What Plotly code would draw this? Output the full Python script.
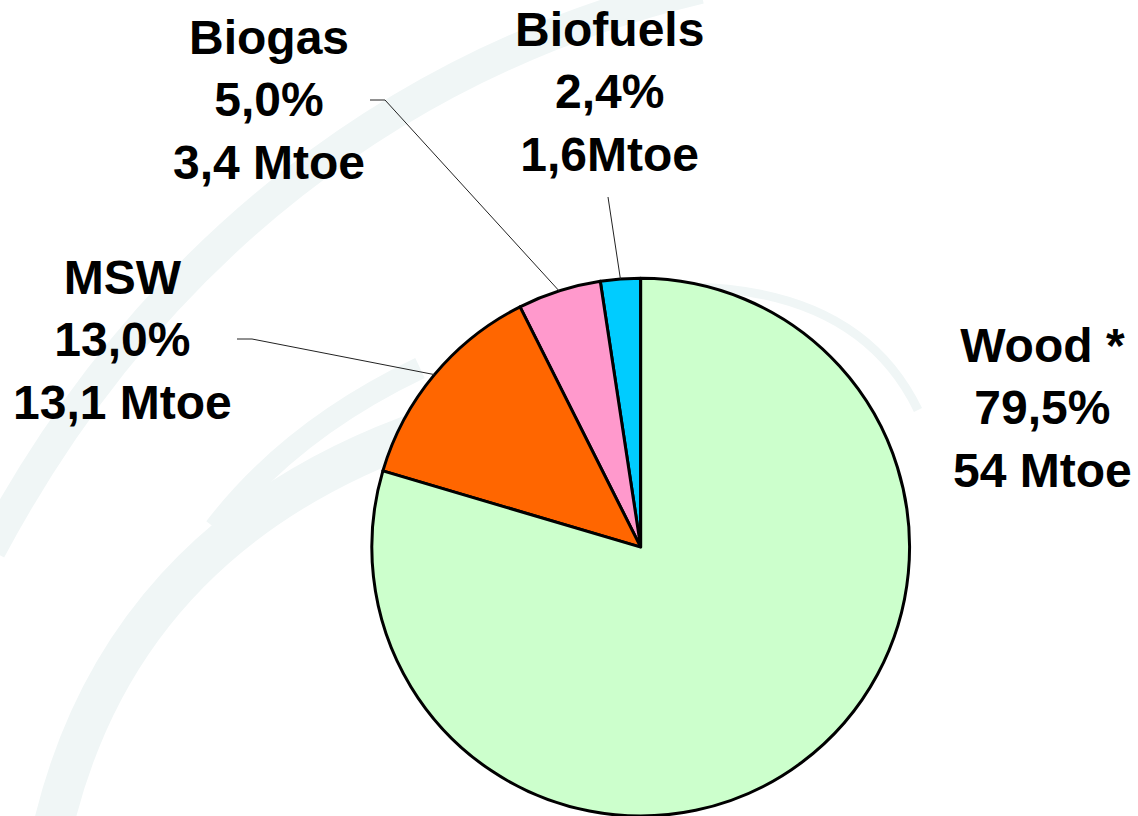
import math
import plotly.graph_objects as go

# ---- data ----
categories = ["Biofuels", "Biogas", "MSW", "Wood *"]
shares = [2.4, 5.0, 13.0, 79.5]           # %
share_labels = ["2,4%", "5,0%", "13,0%", "79,5%"]
mtoe_labels = ["1,6Mtoe", "3,4 Mtoe", "13,1 Mtoe", "54 Mtoe"]
colors = ["#00CCFF", "#FF99CC", "#FF6600", "#CCFFCC"]

W, H = 1138, 816

# pie geometry (pixels)
dom_x = [0.263, 0.863]
dom_y = [0.0, 0.659]
cx = (dom_x[0] + dom_x[1]) / 2 * W
r = min((dom_x[1] - dom_x[0]) * W, (dom_y[1] - dom_y[0]) * H) / 2
cy = H - ((dom_y[0] + dom_y[1]) / 2 * H)

total = sum(shares)
# first slice starts at 12 o'clock and runs counterclockwise
rot = -shares[0] / total * 360

def px(x):
    return x / W

def py(y):
    return 1 - y / H

fig = go.Figure(go.Pie(
    labels=categories,
    values=shares,
    sort=False,
    direction="counterclockwise",
    rotation=rot,
    marker=dict(colors=colors, line=dict(color="black", width=3)),
    textinfo="none",
    hoverinfo="skip",
    showlegend=False,
    domain=dict(x=dom_x, y=dom_y),
))

# label blocks (center positions in pixels) and leader line start points
label_pos = {
    "Biofuels": (609, 92),
    "Biogas": (269, 100),
    "MSW": (122, 340),
    "Wood *": (1042, 408),
}
leader_start = {
    "Biofuels": [(608, 197)],
    "Biogas": [(370, 100), (385, 100)],
    "MSW": [(237, 339), (252, 339)],
}

annotations = []
for cat, sl, ml in zip(categories, share_labels, mtoe_labels):
    x, y = label_pos[cat]
    annotations.append(dict(
        x=px(x), y=py(y), xref="paper", yref="paper",
        xanchor="center", yanchor="middle", showarrow=False,
        text=f"<b>{cat}<br>{sl}<br>{ml}</b>",
        font=dict(family="Liberation Sans, Arial, sans-serif", size=48, color="black"),
        align="center",
    ))

shapes = []
# faint decorative swooshes in the background
swoosh = "#F0F6F6"
shapes.append(dict(type="path", xref="paper", yref="paper", layer="below",
                   path=f"M {px(-10)} {py(550)} C {px(150)} {py(250)}, {px(400)} {py(60)}, {px(700)} {py(-12)}",
                   line=dict(color=swoosh, width=32)))
shapes.append(dict(type="path", xref="paper", yref="paper", layer="below",
                   path=f"M {px(48)} {py(850)} C {px(90)} {py(640)}, {px(220)} {py(500)}, {px(430)} {py(428)}",
                   line=dict(color=swoosh, width=40)))
shapes.append(dict(type="path", xref="paper", yref="paper", layer="below",
                   path=f"M {px(215)} {py(528)} Q {px(290)} {py(430)}, {px(420)} {py(368)}",
                   line=dict(color=swoosh, width=22)))
shapes.append(dict(type="path", xref="paper", yref="paper", layer="below",
                   path=f"M {px(690)} {py(287)} Q {px(860)} {py(290)}, {px(918)} {py(410)}",
                   line=dict(color=swoosh, width=9)))

# leader lines to the middle of each slice's outer edge
cum = 0.0
for cat, v in zip(categories, shares):
    mid = (cum + v / 2) / total * 2 * math.pi
    cum += v
    if cat not in leader_start:
        continue
    ex = cx - r * math.sin(mid)
    ey = cy - r * math.cos(mid)
    pts = leader_start[cat] + [(ex, ey)]
    path = "M " + " L ".join(f"{px(a)} {py(b)}" for a, b in pts)
    shapes.append(dict(type="path", xref="paper", yref="paper", layer="above",
                       path=path, line=dict(color="#222222", width=1)))

fig.update_layout(
    width=W, height=H,
    margin=dict(l=0, r=0, t=0, b=0),
    paper_bgcolor="white",
    plot_bgcolor="white",
    annotations=annotations,
    shapes=shapes,
)

fig.write_html(
    "out.html",
    config={"displayModeBar": False},
    post_script="document.body.style.margin='0';document.body.style.overflow='hidden';",
)
